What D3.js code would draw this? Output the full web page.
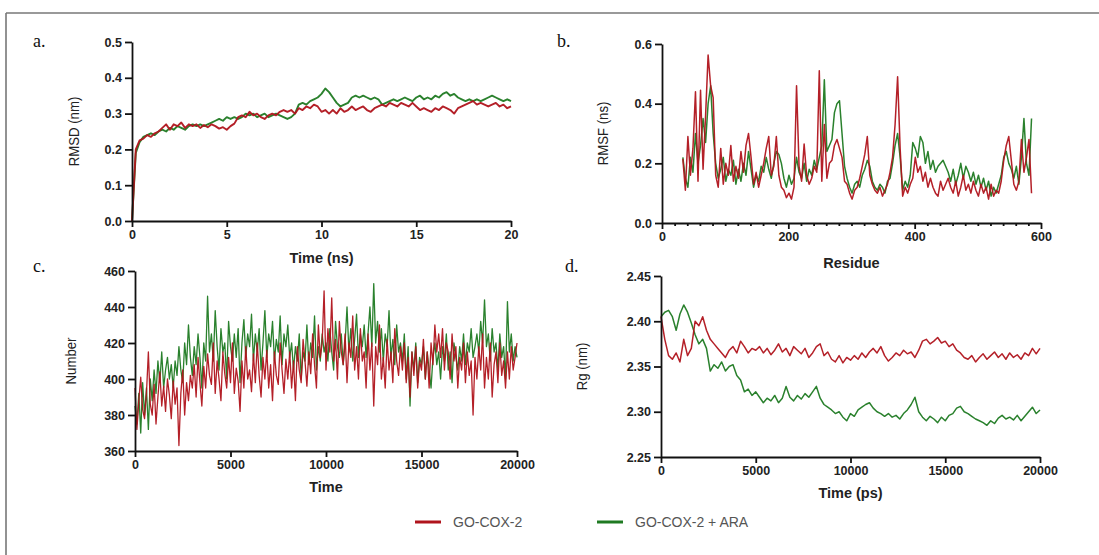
<!DOCTYPE html>
<html>
<head>
<meta charset="utf-8">
<script src="https://cdn.jsdelivr.net/npm/d3@7"></script>
<style>
  body { margin: 0; background: #fff; }
  .tick text { font-family: "Liberation Sans", Arial, sans-serif; font-weight: bold; font-size: 12.5px; fill: #222; }
  .domain, .tick line { stroke: #111; stroke-width: 1.8px; }
</style>
</head>
<body>
<div id="chart"></div>
<script>
// panel a: RMSD (nm), one value every 0.2 ns from 0 to 20 ns
const rmsdStep = 0.2;
const rmsdRed = [0.00,0.20,0.225,0.23,0.24,0.235,0.245,0.25,0.26,0.27,0.255,0.27,0.265,0.275,0.26,0.27,0.265,0.27,0.26,0.268,
  0.262,0.27,0.265,0.258,0.262,0.255,0.265,0.272,0.29,0.295,0.29,0.305,0.295,0.30,0.29,0.285,0.295,0.30,0.295,0.305,
  0.31,0.305,0.31,0.30,0.315,0.31,0.32,0.315,0.325,0.32,0.305,0.31,0.30,0.31,0.30,0.315,0.305,0.31,0.32,0.31,
  0.315,0.32,0.31,0.305,0.315,0.32,0.325,0.32,0.33,0.325,0.32,0.33,0.325,0.32,0.33,0.32,0.31,0.315,0.31,0.305,
  0.315,0.31,0.32,0.315,0.31,0.30,0.315,0.32,0.325,0.33,0.335,0.325,0.33,0.325,0.32,0.325,0.33,0.32,0.325,0.315,0.32];
const rmsdGreen = [0.00,0.19,0.22,0.235,0.24,0.245,0.24,0.25,0.255,0.25,0.26,0.255,0.265,0.26,0.255,0.265,0.27,0.265,0.27,0.265,
  0.27,0.275,0.28,0.285,0.28,0.29,0.285,0.29,0.285,0.29,0.30,0.295,0.30,0.29,0.295,0.30,0.29,0.295,0.30,0.295,
  0.29,0.285,0.29,0.30,0.325,0.33,0.325,0.335,0.34,0.345,0.355,0.37,0.36,0.345,0.33,0.32,0.325,0.33,0.345,0.35,
  0.345,0.35,0.345,0.34,0.345,0.34,0.325,0.33,0.335,0.34,0.335,0.34,0.345,0.34,0.335,0.345,0.35,0.34,0.345,0.34,
  0.35,0.345,0.355,0.36,0.35,0.355,0.345,0.34,0.335,0.34,0.335,0.34,0.335,0.34,0.345,0.35,0.345,0.34,0.335,0.34,0.335];

// panel b: RMSF per residue, residues 33..585 every 4
const rmsfStart = 33, rmsfStep = 4;
const rmsfRed = [0.215,0.11,0.29,0.16,0.25,0.44,0.14,0.445,0.18,0.36,0.563,0.46,0.42,0.16,0.12,0.25,0.13,0.20,0.16,0.26,
  0.14,0.19,0.15,0.24,0.17,0.26,0.30,0.22,0.13,0.17,0.12,0.16,0.20,0.25,0.29,0.16,0.19,0.29,0.16,0.12,
  0.11,0.085,0.10,0.08,0.12,0.46,0.19,0.14,0.265,0.16,0.13,0.15,0.19,0.17,0.51,0.14,0.33,0.15,0.20,0.21,
  0.26,0.28,0.25,0.22,0.14,0.13,0.10,0.08,0.11,0.12,0.15,0.19,0.23,0.29,0.16,0.13,0.11,0.10,0.12,0.09,
  0.11,0.13,0.17,0.22,0.33,0.49,0.25,0.09,0.12,0.10,0.13,0.15,0.22,0.17,0.19,0.14,0.17,0.12,0.15,0.12,
  0.10,0.09,0.14,0.11,0.13,0.15,0.12,0.10,0.14,0.09,0.12,0.16,0.11,0.13,0.10,0.14,0.11,0.09,0.13,0.10,
  0.12,0.08,0.13,0.09,0.11,0.10,0.14,0.21,0.26,0.29,0.21,0.13,0.11,0.14,0.28,0.17,0.22,0.28,0.10];
const rmsfGreen = [0.22,0.15,0.12,0.22,0.17,0.30,0.20,0.26,0.35,0.27,0.40,0.46,0.30,0.20,0.15,0.18,0.22,0.14,0.18,0.16,
  0.21,0.13,0.18,0.14,0.20,0.16,0.24,0.18,0.12,0.16,0.14,0.19,0.17,0.22,0.18,0.15,0.20,0.24,0.23,0.20,
  0.15,0.12,0.16,0.13,0.15,0.22,0.17,0.15,0.20,0.14,0.18,0.16,0.21,0.18,0.22,0.26,0.48,0.24,0.26,0.28,
  0.37,0.40,0.41,0.30,0.19,0.15,0.12,0.10,0.13,0.14,0.12,0.16,0.18,0.21,0.19,0.14,0.12,0.11,0.13,0.12,
  0.10,0.14,0.15,0.20,0.26,0.30,0.22,0.11,0.14,0.12,0.16,0.27,0.25,0.22,0.29,0.27,0.20,0.24,0.18,0.21,
  0.17,0.19,0.20,0.21,0.19,0.17,0.14,0.18,0.13,0.16,0.20,0.15,0.19,0.17,0.14,0.17,0.13,0.16,0.12,0.15,
  0.11,0.14,0.09,0.12,0.10,0.13,0.16,0.22,0.24,0.20,0.18,0.15,0.19,0.13,0.22,0.35,0.20,0.16,0.35];

// panel c: number (H-bonds), one value every 100 ps
const hbStep = 100;
const hbRed = [395,372,388,401,383,378,392,415,386,380,397,375,390,404,385,396,382,400,391,378,
  399,386,395,363,392,405,380,398,388,402,395,408,390,412,398,385,407,395,414,402,
  397,420,392,410,400,388,415,403,395,412,398,420,392,406,399,382,410,395,418,400,
  405,393,414,398,420,402,390,412,400,416,395,408,388,415,402,397,420,405,392,411,
  400,415,395,410,388,418,405,398,422,410,396,415,403,425,408,395,430,412,420,449,
  405,428,415,445,410,422,400,432,415,408,425,398,420,412,435,405,418,400,428,410,
  415,395,425,405,420,385,418,408,430,400,412,395,422,405,415,398,428,410,402,418,
  405,420,398,412,390,415,402,418,395,410,405,422,400,415,395,420,408,430,415,425,
  412,428,405,420,415,400,425,410,418,395,412,405,420,398,415,402,410,380,412,400,
  418,405,425,395,412,400,420,390,408,415,398,420,402,410,395,415,400,418,405,412,420];
const hbGreen = [385,375,392,370,398,380,395,372,400,388,405,392,410,398,415,395,405,412,400,408,
  395,410,402,418,405,398,420,408,430,412,402,418,408,425,412,395,420,410,446,415,
  425,410,438,418,405,428,415,420,400,432,418,410,425,412,428,398,420,433,412,425,
  418,436,410,425,415,428,405,420,438,412,425,418,432,410,422,415,435,408,425,418,
  430,412,420,405,418,410,425,400,415,410,430,408,420,412,435,405,418,410,425,415,
  420,410,428,415,405,432,418,412,425,408,420,440,415,428,410,422,436,412,425,418,
  430,412,425,440,418,453,420,432,415,428,410,425,418,438,412,422,408,430,415,420,
  410,425,400,418,385,415,405,420,398,412,408,418,400,415,405,395,412,420,408,415,
  400,418,410,425,405,415,398,420,412,405,418,410,425,408,420,415,428,412,418,425,
  415,432,420,444,418,425,410,428,415,420,405,425,412,418,400,443,415,425,410,418,412];

// panel d: Rg (nm), one value every 200 ps
const rgStep = 200;
const rgRed = [2.405,2.38,2.362,2.358,2.365,2.355,2.38,2.362,2.37,2.40,2.395,2.405,2.39,2.38,2.375,2.37,2.365,2.36,2.368,2.372,
  2.365,2.378,2.372,2.365,2.37,2.368,2.372,2.365,2.37,2.363,2.368,2.375,2.366,2.37,2.362,2.372,2.368,2.364,2.37,2.36,
  2.365,2.372,2.375,2.362,2.366,2.358,2.355,2.362,2.354,2.36,2.357,2.362,2.358,2.365,2.36,2.366,2.37,2.365,2.372,2.362,
  2.356,2.36,2.365,2.362,2.368,2.364,2.366,2.36,2.368,2.378,2.38,2.375,2.378,2.382,2.376,2.378,2.372,2.375,2.368,2.365,
  2.36,2.358,2.362,2.355,2.36,2.364,2.358,2.362,2.366,2.36,2.364,2.358,2.365,2.36,2.363,2.358,2.365,2.362,2.37,2.364,2.37];
const rgGreen = [2.405,2.41,2.412,2.405,2.39,2.408,2.418,2.41,2.398,2.385,2.375,2.38,2.37,2.345,2.352,2.348,2.355,2.345,2.35,2.352,
  2.34,2.335,2.322,2.325,2.318,2.322,2.316,2.31,2.315,2.312,2.318,2.31,2.315,2.328,2.316,2.312,2.318,2.314,2.32,2.316,
  2.322,2.328,2.315,2.308,2.305,2.302,2.298,2.30,2.294,2.29,2.298,2.295,2.302,2.305,2.308,2.31,2.304,2.30,2.298,2.295,
  2.298,2.294,2.296,2.292,2.298,2.302,2.308,2.316,2.30,2.294,2.29,2.295,2.292,2.288,2.294,2.29,2.296,2.298,2.304,2.306,
  2.30,2.298,2.295,2.292,2.29,2.288,2.285,2.29,2.287,2.293,2.296,2.292,2.294,2.291,2.296,2.29,2.295,2.30,2.305,2.298,2.302];

const seriesNames = ["GO-COX-2", "GO-COX-2 + ARA"];
const red = "#b0141c", green = "#1f7a22";

const svg = d3.select("#chart").append("svg")
  .attr("width", 1099)
  .attr("height", 555)
  .style("background", "#fff");

// outer frame (top and left only are visible)
svg.append("line").attr("x1", 6).attr("x2", 1099).attr("y1", 13).attr("y2", 13)
  .attr("stroke", "#777").attr("stroke-width", 1.6);
svg.append("line").attr("x1", 6).attr("x2", 6).attr("y1", 13).attr("y2", 555)
  .attr("stroke", "#777").attr("stroke-width", 1.6);

function drawPanel(p) {
  const x = d3.scaleLinear().domain(p.xDomain).range(p.xRange);
  const y = d3.scaleLinear().domain(p.yDomain).range(p.yRange);
  const g = svg.append("g");

  const line = d3.line()
    .x(d => x(d[0]))
    .y(d => y(d[1]));

  p.series.forEach(s => {
    const pts = s.values.map((v, i) => [p.x0 + i * p.step, v]);
    g.append("path")
      .datum(pts)
      .attr("fill", "none")
      .attr("stroke", s.color)
      .attr("stroke-width", p.lineWidth)
      .attr("stroke-linejoin", "round")
      .attr("stroke-opacity", 0.95)
      .attr("d", line);
  });

  if (p.minorTicks) {
    g.append("g")
      .attr("transform", `translate(0,${p.yRange[0]})`)
      .call(d3.axisBottom(x).tickValues(p.minorTicks).tickSize(3).tickFormat(""))
      .call(a => a.select(".domain").remove());
  }
  g.append("g")
    .attr("transform", `translate(0,${p.yRange[0]})`)
    .call(d3.axisBottom(x).tickValues(p.xTicks).tickSize(6).tickPadding(3).tickSizeOuter(0).tickFormat(d3.format("d")));
  g.append("g")
    .attr("transform", `translate(${p.xRange[0]},0)`)
    .call(d3.axisLeft(y).tickValues(p.yTicks).tickSize(7).tickPadding(3).tickSizeOuter(0).tickFormat(d3.format(p.yFormat)));

  g.append("text")
    .attr("x", (p.xRange[0] + p.xRange[1]) / 2)
    .attr("y", p.xTitleY)
    .attr("text-anchor", "middle")
    .attr("font-family", "Liberation Sans, Arial, sans-serif")
    .attr("font-weight", "bold")
    .attr("font-size", "14.5px")
    .attr("fill", "#222")
    .text(p.xTitle);

  g.append("text")
    .attr("transform", `translate(${p.yTitleX},${(p.yRange[0] + p.yRange[1]) / 2}) rotate(-90) scale(0.88,1)`)
    .attr("text-anchor", "middle")
    .attr("font-family", "Liberation Sans, Arial, sans-serif")
    .attr("font-size", "15px")
    .attr("fill", "#222")
    .text(p.yTitle);

  g.append("text")
    .attr("x", p.labelPos[0])
    .attr("y", p.labelPos[1])
    .attr("font-family", "Liberation Serif, DejaVu Serif, serif")
    .attr("font-size", "18px")
    .attr("fill", "#111")
    .text(p.label);
}

drawPanel({
  label: "a.", labelPos: [33, 47],
  xDomain: [0, 20], xRange: [132, 511], yDomain: [0, 0.5], yRange: [221, 42],
  x0: 0, step: rmsdStep, lineWidth: 1.9,
  series: [{ values: rmsdGreen, color: green }, { values: rmsdRed, color: red }],
  xTicks: [0, 5, 10, 15, 20], yTicks: [0, 0.1, 0.2, 0.3, 0.4, 0.5], yFormat: ".1f",
  xTitle: "Time (ns)", xTitleY: 263, yTitle: "RMSD (nm)", yTitleX: 79
});

drawPanel({
  label: "b.", labelPos: [557, 47],
  xDomain: [0, 600], xRange: [662, 1041], yDomain: [0, 0.6], yRange: [223, 44],
  x0: rmsfStart, step: rmsfStep, lineWidth: 1.5,
  series: [{ values: rmsfGreen, color: green }, { values: rmsfRed, color: red }],
  xTicks: [0, 200, 400, 600], yTicks: [0, 0.2, 0.4, 0.6], yFormat: ".1f",
  minorTicks: d3.range(20, 600, 20).filter(v => v % 200 !== 0),
  xTitle: "Residue", xTitleY: 268, yTitle: "RMSF (ns)", yTitleX: 608
});

drawPanel({
  label: "c.", labelPos: [33, 272],
  xDomain: [0, 20000], xRange: [135, 517], yDomain: [360, 460], yRange: [451, 271],
  x0: 0, step: hbStep, lineWidth: 1.3,
  series: [{ values: hbGreen, color: green }, { values: hbRed, color: red }],
  xTicks: [0, 5000, 10000, 15000, 20000], yTicks: [360, 380, 400, 420, 440, 460], yFormat: "d",
  xTitle: "Time", xTitleY: 492, yTitle: "Number", yTitleX: 76
});

drawPanel({
  label: "d.", labelPos: [565, 272],
  xDomain: [0, 20000], xRange: [661, 1040], yDomain: [2.25, 2.45], yRange: [457, 276],
  x0: 0, step: rgStep, lineWidth: 1.5,
  series: [{ values: rgGreen, color: green }, { values: rgRed, color: red }],
  xTicks: [0, 5000, 10000, 15000, 20000], yTicks: [2.25, 2.30, 2.35, 2.40, 2.45], yFormat: ".2f",
  xTitle: "Time (ps)", xTitleY: 498, yTitle: "Rg (nm)", yTitleX: 587
});

// legend
const legend = svg.append("g").attr("transform", "translate(415,522)");
const legendX = d3.scaleOrdinal().domain(seriesNames).range([0, 182]);
const legendColor = d3.scaleOrdinal().domain(seriesNames).range([red, green]);
seriesNames.forEach(name => {
  const lg = legend.append("g").attr("transform", `translate(${legendX(name)},0)`);
  lg.append("line").attr("x1", 0).attr("x2", 26).attr("y1", 0).attr("y2", 0)
    .attr("stroke", legendColor(name)).attr("stroke-width", 3);
  lg.append("text").attr("x", 38).attr("y", 5)
    .attr("font-family", "Liberation Sans, Arial, sans-serif")
    .attr("font-size", "14px")
    .attr("fill", "#555")
    .text(name);
});
</script>
</body>
</html>
